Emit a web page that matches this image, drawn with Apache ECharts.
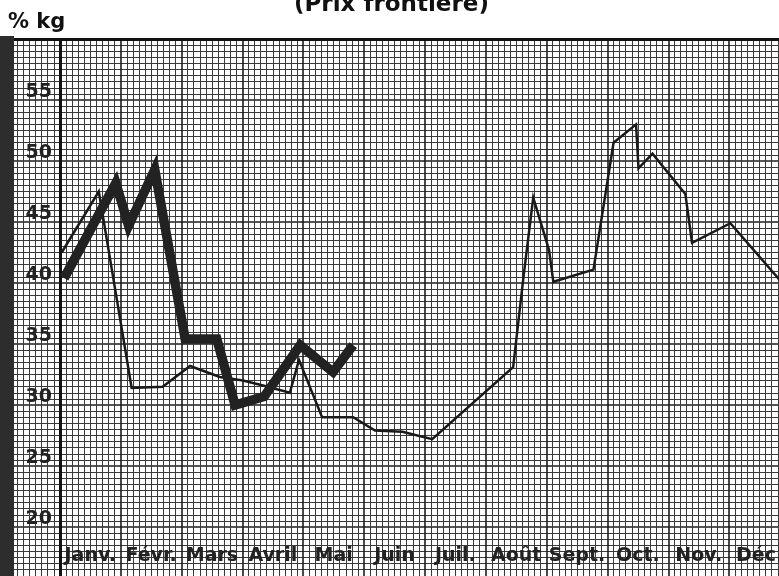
<!DOCTYPE html>
<html>
<head>
<meta charset="utf-8">
<style>
  html, body { margin: 0; padding: 0; background: #fff; }
  #chart { width: 779px; height: 576px; }
</style>
<script src="https://cdn.jsdelivr.net/npm/echarts@6/dist/echarts.min.js"></script>
</head>
<body>
<div id="chart"></div>
<script>
// mois (axe x : 0 = début de janvier, 1 unité = 1 mois)
const months = ['Janv.', 'Févr.', 'Mars', 'Avril', 'Mai', 'Juin', 'Juil.', 'Août', 'Sept.', 'Oct.', 'Nov.', 'Déc.']
const yTicks = [20, 25, 30, 35, 40, 45, 50, 55]

// courbe fine (année complète)
const thinX = [0.03, 0.64, 1.18, 1.69, 2.14, 2.63, 3.01, 3.34, 3.78, 3.93, 4.31, 4.82, 5.18, 5.63, 6.12, 7.45, 7.62, 7.78, 8.04, 8.11, 8.77, 9.10, 9.47, 9.51, 9.74, 10.28, 10.39, 11.02, 11.83]
const thinY = [42.5, 47.5, 31.4, 31.5, 33.2, 32.3, 32.0, 31.6, 31.0, 33.7, 29.0, 29.0, 27.9, 27.8, 27.2, 33.1, 40.5, 47.0, 42.7, 40.1, 41.1, 51.5, 53.0, 49.4, 50.6, 47.3, 43.3, 44.9, 40.25]

// courbe épaisse (janvier - mai)
const thickX = [0.07, 0.92, 1.13, 1.56, 2.06, 2.58, 2.88, 3.36, 3.95, 4.49, 4.82]
const thickY = [40.4, 48.2, 44.7, 49.3, 35.4, 35.4, 30.0, 30.7, 34.9, 32.7, 34.9]

const ink = '#1c1c1c'
const labelFont = { fontFamily: 'DejaVu Sans', fontWeight: 'bold', color: '#222' }

const chart = echarts.init(document.getElementById('chart'))

const option = {
  animation: false,
  backgroundColor: '#fff',
  title: [
    {
      text: '(Prix frontière)',
      left: 294,
      top: -6,
      padding: 0,
      textStyle: { ...labelFont, fontSize: 23, color: '#111' }
    },
    {
      text: '% kg',
      left: 8,
      top: 12,
      padding: 0,
      textStyle: { ...labelFont, fontSize: 21, color: '#111' }
    }
  ],
  graphic: [
    // bord sombre du scan
    {
      type: 'rect',
      shape: { x: 0, y: 36, width: 14, height: 540 },
      style: { fill: '#2d2d2d' },
      z: 100
    }
  ],
  grid: {
    left: -1,
    top: 39,
    width: 791,
    height: 549,
    outerBoundsMode: 'none',
    containLabel: false
  },
  xAxis: [
    {
      type: 'value',
      min: -1,
      max: 12,
      interval: 1,
      axisLine: { show: false },
      axisTick: { show: false },
      axisLabel: { show: false },
      splitLine: { show: true, lineStyle: { color: ink, width: 1.6 } },
      minorTick: { show: false, splitNumber: 10 },
      minorSplitLine: { show: true, lineStyle: { color: '#3a3a3a', width: 1 } }
    },
    {
      type: 'category',
      data: [''].concat(months),
      boundaryGap: true,
      position: 'bottom',
      axisLine: { show: false },
      axisTick: { show: false },
      splitLine: { show: false },
      axisLabel: {
        inside: true,
        interval: 0,
        margin: 32,
        verticalAlign: 'middle',
        ...labelFont,
        fontSize: 19
      }
    }
  ],
  yAxis: {
    type: 'value',
    min: 15,
    max: 60,
    interval: 5,
    axisLine: { show: false },
    axisTick: { show: false },
    axisLabel: {
      inside: true,
      margin: 53,
      align: 'right',
      verticalAlign: 'bottom',
      lineHeight: 16,
      ...labelFont,
      fontSize: 19,
      formatter: v => (yTicks.indexOf(v) >= 0 ? String(v) : '')
    },
    splitLine: { show: true, lineStyle: { color: ink, width: 1.6 } },
    minorTick: { show: false, splitNumber: 10 },
    minorSplitLine: { show: true, lineStyle: { color: '#3a3a3a', width: 1 } }
  },
  series: [
    {
      name: 'cadre',
      type: 'line',
      data: [],
      silent: true,
      markLine: {
        silent: true,
        symbol: 'none',
        label: { show: false },
        lineStyle: { color: '#111', width: 3, type: 'solid' },
        data: [{ xAxis: 0 }, { yAxis: 60 }]
      }
    },
    {
      name: 'fine',
      type: 'line',
      data: thinX.map((x, i) => [x, thinY[i]]),
      showSymbol: false,
      lineStyle: { color: '#1a1a1a', width: 2.5, join: 'miter' },
      z: 5
    },
    {
      name: 'épaisse',
      type: 'line',
      data: thickX.map((x, i) => [x, thickY[i]]),
      showSymbol: false,
      lineStyle: { color: '#222', width: 9.5, join: 'miter', cap: 'butt' },
      z: 6
    }
  ]
}

chart.setOption(option)
</script>
</body>
</html>
